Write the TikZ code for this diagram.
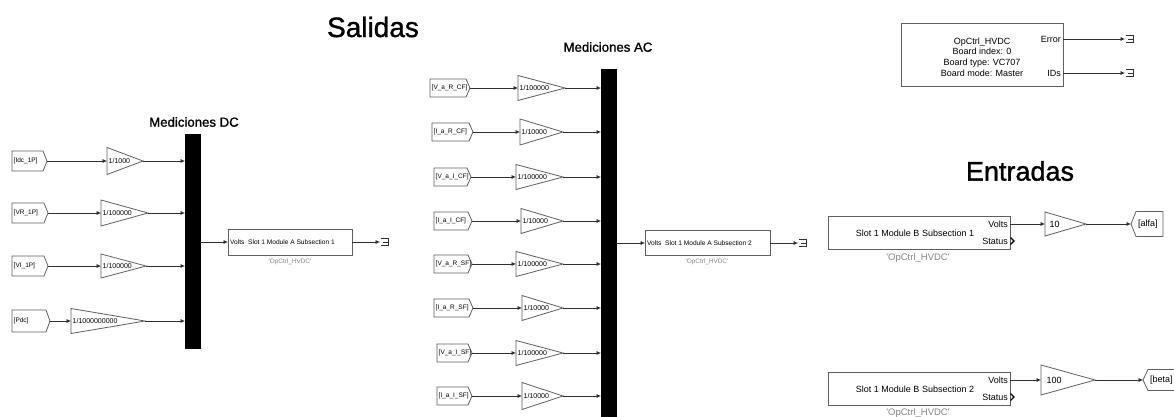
\documentclass[tikz,border=0pt]{standalone}
\usepackage{fontspec}
\setmainfont{Liberation Sans}
\newfontfamily\headfont{Liberation Sans}[FakeBold=1.2]
\usetikzlibrary{arrows.meta}

\definecolor{wirecol}{HTML}{303030}
\definecolor{edgecol}{HTML}{606060}
\definecolor{notecol}{HTML}{858585}

\tikzset{
  wire/.style={draw=wirecol, line width=0.7pt, -{Latex[length=4.5pt,width=4pt]}},
  outline/.style={draw=edgecol, line width=0.8pt, line join=miter},
  termline/.style={draw=wirecol, line width=0.7pt},
  area/.style={inner sep=0pt, outer sep=0pt},
  blockbox/.style={draw=edgecol, line width=1pt, inner sep=0pt, outer sep=0pt},
  tagfont/.style={inner sep=0pt, font=\fontsize{6.5}{7}\selectfont},
  gainfont/.style={inner sep=0pt, font=\fontsize{7}{8}\selectfont},
  afont/.style={inner sep=0pt, font=\fontsize{6.6}{7}\selectfont},
  bfont/.style={inner sep=0pt, font=\fontsize{9}{10.7}\selectfont},
  notefont/.style={inner sep=0pt, text=notecol},
  title/.style={inner sep=0pt, font=\headfont\fontsize{#1}{#1}\selectfont},
  mux/.style={fill=black, draw=black, inner sep=0pt, outer sep=0pt, minimum width=15pt},
  chevron/.style={draw=black, line width=1.1pt, line join=miter},
}

% From tag: name, left x, centre y, width, height, label
\newcommand\fromtag[6]{%
  \node[area, minimum width=#4, minimum height=#5, anchor=west] (#1) at (#2,#3) {};
  \draw[outline] (#1.north west) -- ([xshift=-4pt]#1.north east) -- (#1.east)
    -- ([xshift=-4pt]#1.south east) -- (#1.south west) -- cycle;
  \node[tagfont, anchor=west] at ([xshift=1.5pt]#1.west) {#6};
}
% Goto tag (pointing left): name, left x, centre y, width, height, label
\newcommand\gototag[6]{%
  \node[area, minimum width=#4, minimum height=#5, anchor=west] (#1) at (#2,#3) {};
  \draw[outline] (#1.west) -- ([xshift=5pt]#1.north west) -- (#1.north east)
    -- (#1.south east) -- ([xshift=5pt]#1.south west) -- cycle;
  \node[bfont, anchor=west] at ([xshift=7pt]#1.west) {#6};
}
% Gain triangle: [text style] name, left x, centre y, width, height, label
\newcommand\gain[7][gainfont]{%
  \node[area, minimum width=#5, minimum height=#6, anchor=west] (#2) at (#3,#4) {};
  \draw[outline] (#2.north west) -- (#2.east) -- (#2.south west) -- cycle;
  \node[#1, anchor=west] at ([xshift=1.5pt]#2.west) {#7};
}
% Terminator: name, x, y
\newcommand\term[3]{%
  \coordinate (#1) at (#2,#3);
  \draw[termline] ([xshift=1pt,yshift=3.5pt]#1) -- ([xshift=8pt,yshift=3.5pt]#1)
    -- ([xshift=8pt,yshift=-3.5pt]#1) -- ([xshift=1pt,yshift=-3.5pt]#1);
  \draw[termline] ([xshift=3pt]#1) -- ([xshift=8pt]#1);
}

\begin{document}
\begin{tikzpicture}[x=1pt, y=-1pt]
\useasboundingbox[fill=white] (0,0) rectangle (1174,417);

% ---------- titles ----------
\node[title=28] at (373,27) {Salidas};
\node[title=13.2] at (608,47) {Mediciones AC};
\node[title=13.2] at (194,122) {Mediciones DC};
\node[title=27] at (1020,171) {Entradas};

% ---------- DC measurements ----------
\node[mux, minimum height=214pt, anchor=north west] (muxdc) at (185,134) {};

\fromtag{tIdc}{12}{161}{35}{20}{[Idc\_1P]}
\fromtag{tVR}{12}{213}{36}{20}{[VR\_1P]}
\fromtag{tVI}{12}{266}{36}{20}{[VI\_1P]}
\fromtag{tPdc}{12}{321}{38}{22}{[Pdc]}

\gain{gIdc}{107}{161}{36}{27}{1/1000}
\gain{gVR}{101}{213}{47}{26}{1/100000}
\gain{gVI}{101}{266}{45}{24}{1/100000}
\gain{gPdc}{71}{321}{74}{25}{1/1000000000}

\foreach \t/\g in {tIdc/gIdc, tVR/gVR, tVI/gVI, tPdc/gPdc}{
  \draw[wire] (\t.east) -- (\g.west);
  \draw[wire] (\g.east) -- (\g.east -| muxdc.west);
}

\node[blockbox, minimum width=124pt, minimum height=26pt, anchor=north west] (modA1) at (228,229) {};
\node[afont, anchor=west] at ([xshift=2pt]modA1.west) {Volts\ \ Slot 1 Module A Subsection 1};
\node[notefont, font=\fontsize{6.4}{7}\selectfont] at (290,262) {\textquotesingle OpCtrl\_HVDC\textquotesingle};
\draw[wire] (muxdc.east |- modA1.west) -- (modA1.west);
\term{endA1}{380}{242}
\draw[wire] (modA1.east) -- (endA1);

% ---------- AC measurements ----------
\node[mux, minimum height=347pt, anchor=north west] (muxac) at (601,69) {};

\fromtag{tVRCF}{430}{88}{40}{18}{[V\_a\_R\_CF]}
\fromtag{tIRCF}{432}{132}{41}{18}{[I\_a\_R\_CF]}
\fromtag{tVICF}{434}{177}{37}{18}{[V\_a\_I\_CF]}
\fromtag{tIICF}{434}{221}{38}{18}{[I\_a\_I\_CF]}
\fromtag{tVRSF}{434}{264}{38}{18}{[V\_a\_R\_SF]}
\fromtag{tIRSF}{434}{308}{39}{18}{[I\_a\_R\_SF]}
\fromtag{tVISF}{437}{353}{35}{18}{[V\_a\_I\_SF]}
\fromtag{tIISF}{437}{396}{35}{18}{[I\_a\_I\_SF]}

\gain{gVRCF}{518}{88}{47}{25}{1/100000}
\gain{gIRCF}{520}{132}{43}{26}{1/10000}
\gain{gVICF}{516}{177}{47}{25}{1/100000}
\gain{gIICF}{521}{221}{42}{25}{1/10000}
\gain{gVRSF}{516}{264}{47}{25}{1/100000}
\gain{gIRSF}{522}{308}{41}{25}{1/10000}
\gain{gVISF}{516}{353}{47}{25}{1/100000}
\gain{gIISF}{522}{396}{41}{27}{1/10000}

\foreach \t/\g in {tVRCF/gVRCF, tIRCF/gIRCF, tVICF/gVICF, tIICF/gIICF,
                   tVRSF/gVRSF, tIRSF/gIRSF, tVISF/gVISF, tIISF/gIISF}{
  \draw[wire] (\t.east) -- (\g.west);
  \draw[wire] (\g.east) -- (\g.east -| muxac.west);
}

\node[blockbox, minimum width=125pt, minimum height=25pt, anchor=north west] (modA2) at (645,230.5) {};
\node[afont, anchor=west] at ([xshift=2pt]modA2.west) {Volts\ \ Slot 1 Module A Subsection 2};
\node[notefont, font=\fontsize{6.4}{7}\selectfont] at (707,262) {\textquotesingle OpCtrl\_HVDC\textquotesingle};
\draw[wire] (muxac.east |- modA2.west) -- (modA2.west);
\term{endA2}{798}{243}
\draw[wire] (modA2.east) -- (endA2);

% ---------- board control block ----------
\node[blockbox, minimum width=162pt, minimum height=63pt, anchor=north west] (board) at (901,24) {};
\node[bfont, align=center] at (982,57)
  {OpCtrl\_HVDC\\Board index: 0\\Board type: VC707\\Board mode: Master};
\node[bfont, anchor=east] at (1061,39) {Error};
\node[bfont, anchor=east] at (1061,73) {IDs};
\coordinate (boardErr) at (1063,39);
\coordinate (boardIDs) at (1063,73);
\term{endErr}{1125}{39}
\term{endIDs}{1125}{73}
\draw[wire] (boardErr) -- (endErr);
\draw[wire] (boardIDs) -- (endIDs);

% ---------- inputs ----------
\node[blockbox, minimum width=182pt, minimum height=33pt, anchor=north west] (modB1) at (828,216) {};
\node[bfont] at (915,233.5) {Slot 1 Module B Subsection 1};
\node[bfont, anchor=east] at (1008,224) {Volts};
\node[bfont, anchor=east] at (1008,241) {Status};
\draw[chevron] (1010.5,237.5) -- (1014,241) -- (1010.5,244.5);
\node[notefont, font=\fontsize{9.5}{10}\selectfont] at (918,258) {\textquotesingle OpCtrl\_HVDC\textquotesingle};
\gain[bfont]{gAlfa}{1045}{224}{41}{24}{\hspace{3pt}10}
\gototag{alfa}{1131}{224}{32}{25}{[alfa]}
\draw[wire] (modB1.east |- gAlfa.west) -- (gAlfa.west);
\draw[wire] (gAlfa.east) -- (alfa.west);

\node[blockbox, minimum width=182pt, minimum height=33pt, anchor=north west] (modB2) at (828,372) {};
\node[bfont] at (915,389.5) {Slot 1 Module B Subsection 2};
\node[bfont, anchor=east] at (1008,380) {Volts};
\node[bfont, anchor=east] at (1008,397) {Status};
\draw[chevron] (1010.5,393.5) -- (1014,397) -- (1010.5,400.5);
\node[notefont, font=\fontsize{9.5}{10}\selectfont] at (918,413) {\textquotesingle OpCtrl\_HVDC\textquotesingle};
\gain[bfont]{gBeta}{1041}{380}{54}{30}{\hspace{4pt}100}
\gototag{beta}{1143}{380}{38}{21}{[beta]}
\draw[wire] (modB2.east |- gBeta.west) -- (gBeta.west);
\draw[wire] (gBeta.east) -- (beta.west);

\end{tikzpicture}
\end{document}
